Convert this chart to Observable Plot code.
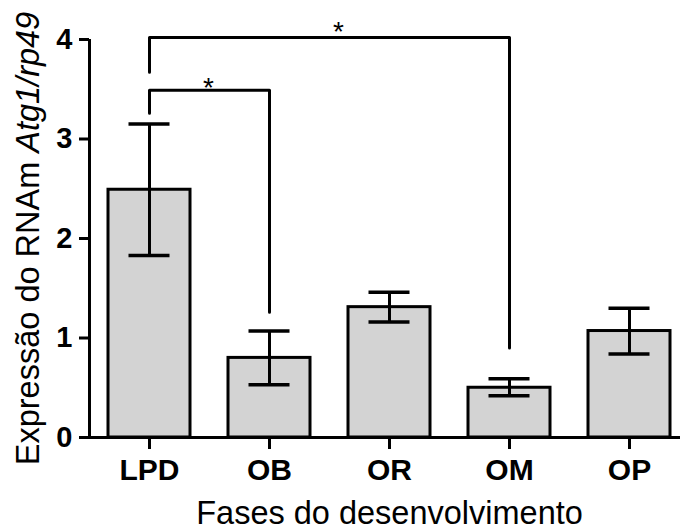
<!DOCTYPE html>
<html>
<head>
<meta charset="utf-8">
<script src="https://cdn.jsdelivr.net/npm/d3@7"></script>
<script src="https://cdn.jsdelivr.net/npm/@observablehq/plot@0.6"></script>
<style>
  body { margin: 0; background: #fff; }
  #chart svg { display: block; }
</style>
</head>
<body>
<div id="chart"></div>
<script>
// ---- data ----
const stages = ["LPD", "OB", "OR", "OM", "OP"];
const means  = [2.49, 0.80, 1.31, 0.50, 1.07];
const lower  = [1.83, 0.53, 1.16, 0.42, 0.84];
const upper  = [3.15, 1.07, 1.46, 0.59, 1.30];
const yTicks = [0, 1, 2, 3, 4];

// significance brackets (LPD vs OB, LPD vs OM)
const bracket1X = ["LPD", "LPD", "OB", "OB"];
const bracket1Y = [3.26, 3.49, 3.49, 1.26];
const bracket2X = ["LPD", "LPD", "OM", "OM"];
const bracket2Y = [3.67, 4.02, 4.02, 0.90];
const starLabel = "*";

const xLabel = "Fases do desenvolvimento";
const yLabelPlain = "Expressão do RNAm ";
const yLabelItalic = "Atg1/rp49";

// ---- tables built from arrays ----
const rows = stages.map((s, i) => ({stage: s, mean: means[i], lo: lower[i], hi: upper[i]}));
const b1 = bracket1X.map((x, i) => ({x, y: bracket1Y[i]}));
const b2 = bracket2X.map((x, i) => ({x, y: bracket2Y[i]}));

const font = "'Liberation Sans', Arial, Helvetica, sans-serif";

const plot = Plot.plot({
  width: 680,
  height: 530,
  marginLeft: 89,
  marginRight: 0,
  marginTop: 39,
  marginBottom: 93,
  style: {fontFamily: font, color: "#000", background: "#fff", overflow: "visible"},
  x: {domain: stages, range: [89, 689], paddingInner: 0.32, paddingOuter: 0.16, axis: null},
  y: {domain: [0, 4], axis: null},
  marks: [
    Plot.barY(rows, {x: "stage", y: "mean", fill: "#d3d3d3", stroke: "#000", strokeWidth: 3}),
    Plot.ruleX(rows, {x: "stage", y1: "lo", y2: "hi", stroke: "#000", strokeWidth: 3}),
    Plot.tickY(rows, {x: "stage", y: "hi", stroke: "#000", strokeWidth: 3.5, insetLeft: 20.5, insetRight: 20.5}),
    Plot.tickY(rows, {x: "stage", y: "lo", stroke: "#000", strokeWidth: 3.5, insetLeft: 20.5, insetRight: 20.5}),
    // axis lines
    Plot.ruleY([0], {stroke: "#000", strokeWidth: 3}),
    Plot.ruleX([stages[0]], {y1: yTicks[0], y2: yTicks[yTicks.length - 1], dx: -60, stroke: "#000", strokeWidth: 3}),
    Plot.axisY({ticks: yTicks, tickSize: 10, tickPadding: 7, tickFormat: d3.format("d"), strokeWidth: 3,
      fontSize: 29, fontWeight: "bold", label: null}),
    Plot.axisX({tickSize: 12, tickPadding: 9, strokeWidth: 3, fontSize: 30, fontWeight: "bold", label: null}),
    // brackets
    Plot.line(b1, {x: "x", y: "y", stroke: "#000", strokeWidth: 3, curve: "linear"}),
    Plot.line(b2, {x: "x", y: "y", stroke: "#000", strokeWidth: 3, curve: "linear"}),
    Plot.text([starLabel], {x: () => stages[0], y: () => bracket1Y[1], dx: 59, dy: -2, lineAnchor: "middle", fontSize: 28, fill: "#000"}),
    Plot.text([starLabel], {x: () => stages[2], y: () => bracket2Y[1], dx: -51, dy: -5, lineAnchor: "middle", fontSize: 28, fill: "#000"}),
    // axis titles
    Plot.text([xLabel], {x: () => stages[2], frameAnchor: "bottom", dy: 76, lineAnchor: "middle", fontSize: 32.5, fill: "#000"}),
    Plot.text([yLabelPlain + yLabelItalic], {frameAnchor: "left", textAnchor: "middle", rotate: -90, dx: -61, lineAnchor: "middle", fontSize: 32.5, fill: "#000"})
  ]
});

// italicise the gene names in the y title
d3.select(plot).selectAll("text")
  .filter(function () { return this.textContent === yLabelPlain + yLabelItalic; })
  .each(function () {
    const t = d3.select(this);
    t.text(null);
    t.append("tspan").text(yLabelPlain);
    t.append("tspan").attr("font-style", "italic").text(yLabelItalic);
  });

document.getElementById("chart").appendChild(plot);
</script>
</body>
</html>
